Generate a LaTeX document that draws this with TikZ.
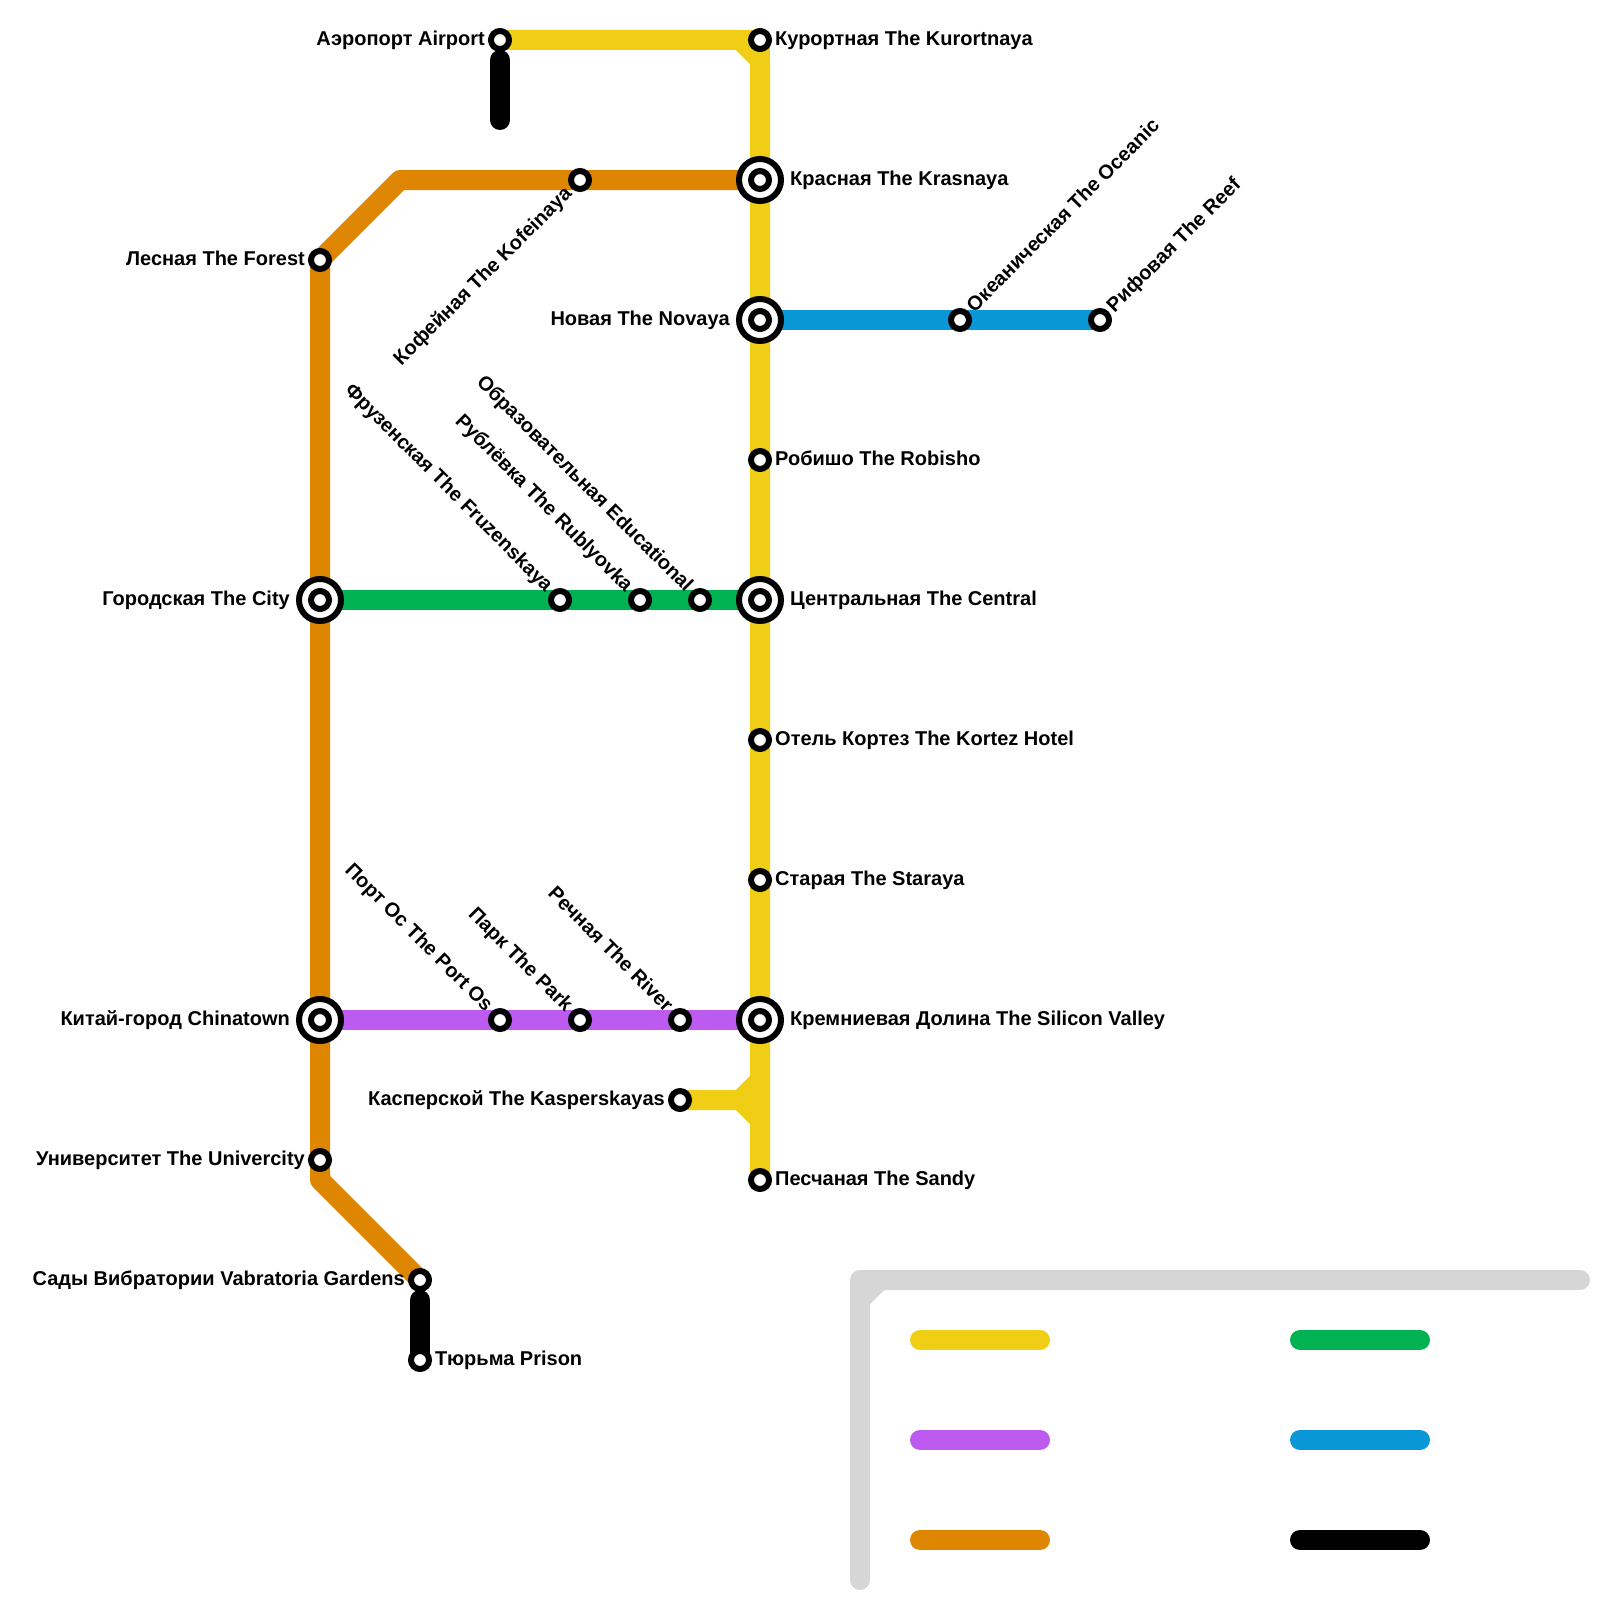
\documentclass[tikz,border=0pt]{standalone}
\usepackage{fontspec}
\setmainfont{Liberation Sans}
\usetikzlibrary{backgrounds}
\definecolor{myellow}{HTML}{F0CE15}
\definecolor{morange}{HTML}{DF8600}
\definecolor{mgreen}{HTML}{00B251}
\definecolor{mblue}{HTML}{0997D8}
\definecolor{mpurple}{HTML}{BD5AF0}
\definecolor{mgrey}{HTML}{D6D6D6}
\tikzset{
  stn/.style={circle,draw=black,fill=white,line width=6pt,minimum size=18pt,inner sep=0pt},
  hub/.style={circle,draw=black,fill=white,line width=6pt,minimum size=42pt,inner sep=0pt},
  lab/.style={font=\bfseries\fontsize{20}{22}\selectfont,inner sep=0pt,text=black},
  rt/.style={lab,anchor=base west},
  lt/.style={lab,anchor=base east},
  metro/.style={line width=20pt,line join=round},
  ends/.style={line width=20pt,line join=round,line cap=round}
}
\newcommand{\hubstn}[2]{\node[hub] (#1) at (#2) {};\node[stn] (#1i) at (#2) {};}
\begin{document}
\begin{tikzpicture}[x=1pt,y=-1pt]
\useasboundingbox (0,0) rectangle (1600,1600);
% stations
\node[stn] (airport) at (500,40) {};
\node[stn] (kurort) at (760,40) {};
\hubstn{krasn}{760,180}
\hubstn{novaya}{760,320}
\node[stn] (kofe) at (580,180) {};
\node[stn] (forest) at (320,260) {};
\node[stn] (ocean) at (960,320) {};
\node[stn] (reef) at (1100,320) {};
\node[stn] (robisho) at (760,460) {};
\hubstn{central}{760,600}
\hubstn{city}{320,600}
\node[stn] (fruz) at (560,600) {};
\node[stn] (rubl) at (640,600) {};
\node[stn] (educ) at (700,600) {};
\node[stn] (kortez) at (760,740) {};
\node[stn] (staraya) at (760,880) {};
\hubstn{silicon}{760,1020}
\hubstn{china}{320,1020}
\node[stn] (portos) at (500,1020) {};
\node[stn] (park) at (580,1020) {};
\node[stn] (river) at (680,1020) {};
\node[stn] (kasper) at (680,1100) {};
\node[stn] (sandy) at (760,1180) {};
\node[stn] (univer) at (320,1160) {};
\node[stn] (gardens) at (420,1280) {};
\node[stn] (prison) at (420,1360) {};
% free coordinates
\coordinate (cTop1) at (740,40);
\coordinate (cTop2) at (760,60);
\coordinate (cOr1) at (400,180);
\coordinate (cOr2) at (320,1180);
\coordinate (cK1) at (740,1100);
\coordinate (cK2) at (760,1080);
\coordinate (cK3) at (760,1120);
\coordinate (stubA) at (500,60);
\coordinate (stubB) at (500,120);
\coordinate (stubC) at (420,1300);
\coordinate (gA) at (1580,1280);
\coordinate (gB) at (880,1280);
\coordinate (gC) at (860,1300);
\coordinate (gD) at (860,1580);
\coordinate (gE) at (860,1280);
% lines
\begin{scope}[on background layer]
\fill[white] (0,0) rectangle (1600,1600);
\draw[metro,mgrey] (gA) -- (gB) -- (gC) -- (gD);
\draw[ends,mgrey] (gA) -- (gE) -- (gD);
\draw[metro,morange] (krasn.center) -- (kofe.center) -- (cOr1) -- (forest.center) -- (city.center) -- (china.center) -- (univer.center) -- (cOr2) -- (gardens.center);
\draw[metro,mgreen] (city.center) -- (central.center);
\draw[metro,mpurple] (china.center) -- (silicon.center);
\draw[metro,mblue] (novaya.center) -- (reef.center);
\draw[metro,myellow] (airport.center) -- (cTop1) -- (cTop2) -- (sandy.center);
\draw[metro,myellow] (cTop1) -- (kurort.center) -- (cTop2);
\draw[metro,myellow] (kasper.center) -- (cK1) -- (cK2);
\draw[metro,myellow] (cK1) -- (cK3);
\draw[ends,black] (stubA) -- (stubB);
\draw[ends,black] (stubC) -- (prison.center);
\end{scope}
% legend
\coordinate (l1a) at (920,1340); \coordinate (l1b) at (1040,1340);
\coordinate (l2a) at (920,1440); \coordinate (l2b) at (1040,1440);
\coordinate (l3a) at (920,1540); \coordinate (l3b) at (1040,1540);
\coordinate (l4a) at (1300,1340); \coordinate (l4b) at (1420,1340);
\coordinate (l5a) at (1300,1440); \coordinate (l5b) at (1420,1440);
\coordinate (l6a) at (1300,1540); \coordinate (l6b) at (1420,1540);
\draw[ends,myellow] (l1a) -- (l1b);
\draw[ends,mpurple] (l2a) -- (l2b);
\draw[ends,morange] (l3a) -- (l3b);
\draw[ends,mgreen] (l4a) -- (l4b);
\draw[ends,mblue] (l5a) -- (l5b);
\draw[ends,black] (l6a) -- (l6b);
% labels
\node[lt] (t1) at (485,45.5) {Аэропорт Airport};
\node[rt] (t2) at (775,45.5) {Курортная The Kurortnaya};
\node[rt] (t3) at (790,185.5) {Красная The Krasnaya};
\node[lt] (t4) at (730,325.5) {Новая The Novaya};
\node[lt] (t5) at (305,265.5) {Лесная The Forest};
\node[rt] (t6) at (775,465.5) {Робишо The Robisho};
\node[rt] (t7) at (790,605.5) {Центральная The Central};
\node[lt] (t8) at (290,605.5) {Городская The City};
\node[rt] (t9) at (775,745.5) {Отель Кортез The Kortez Hotel};
\node[rt] (t10) at (775,885.5) {Старая The Staraya};
\node[rt] (t11) at (790,1025.5) {Кремниевая Долина The Silicon Valley};
\node[lt] (t12) at (290,1025.5) {Китай-город Chinatown};
\node[lt] (t13) at (665,1105.5) {Касперской The Kasperskayas};
\node[rt] (t14) at (775,1185.5) {Песчаная The Sandy};
\node[lt] (t15) at (305,1165.5) {Университет The Univercity};
\node[lt] (t16) at (405,1285.5) {Сады Вибратории Vabratoria Gardens};
\node[rt] (t17) at (435,1365.5) {Тюрьма Prison};
\node[lt,rotate=45] (t18) at (572.9,194.8) {Кофейная The Kofeinaya};
\node[rt,rotate=45] (t19) at (974.4,313.2) {Океаническая The Oceanic};
\node[rt,rotate=45] (t20) at (1114.4,313.2) {Рифовая The Reef};
\node[lt,rotate=-45] (t21) at (545.2,592.9) {Фрузенская The Fruzenskaya};
\node[lt,rotate=-45] (t22) at (625.2,592.9) {Рублёвка The Rublyovka};
\node[lt,rotate=-45] (t23) at (685.2,592.9) {Образовательная Educational};
\node[lt,rotate=-45] (t24) at (485.2,1012.9) {Порт Ос The Port Os};
\node[lt,rotate=-45] (t25) at (565.2,1012.9) {Парк The Park};
\node[lt,rotate=-45] (t26) at (665.2,1012.9) {Речная The River};
\end{tikzpicture}
\end{document}
